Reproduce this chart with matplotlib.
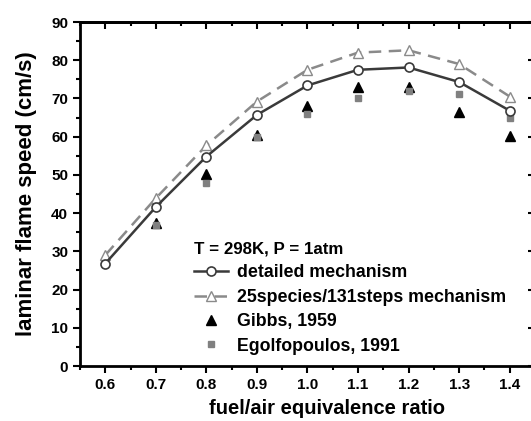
import numpy as np
import matplotlib.pyplot as plt
from matplotlib.ticker import MultipleLocator

plt.rcParams['font.family'] = ['Liberation Sans', 'DejaVu Sans']
plt.rcParams['font.weight'] = 'bold'

phi = [0.6, 0.7, 0.8, 0.9, 1.0, 1.1, 1.2, 1.3, 1.4]
detailed = [26.8, 41.6, 54.8, 65.7, 73.4, 77.5, 78.1, 74.3, 66.8]
reduced = [29.0, 43.9, 57.7, 69.2, 77.5, 82.0, 82.6, 79.0, 70.5]

phi_exp = [0.7, 0.8, 0.9, 1.0, 1.1, 1.2, 1.3, 1.4]
gibbs = [37.5, 50.3, 60.5, 68.1, 73.1, 73.0, 66.4, 60.3]
egolf = [37.0, 48.0, 60.0, 66.0, 70.0, 72.0, 71.2, 64.8]

fig = plt.figure(figsize=(5.31, 4.21), dpi=100)
ax = fig.add_axes([80/531, 1 - 366/421, 455/531, 344/421])

ax.plot(phi, detailed, '-o', color='#3a3a3a', lw=1.8, ms=6.5,
        mfc='white', mec='#3a3a3a', mew=1.2, label='detailed mechanism', zorder=4)
ax.plot(phi, reduced, '--^', color='#8a8a8a', lw=1.8, ms=7.5, dashes=(5, 3),
        mfc='white', mec='#8a8a8a', mew=1.0, label='25species/131steps mechanism', zorder=3)
ax.plot(phi_exp, gibbs, '^', color='black', ms=6.5, ls='none', label='Gibbs, 1959', zorder=2)
ax.plot(phi_exp, egolf, 's', color='#808080', ms=4.8, ls='none', label='Egolfopoulos, 1991', zorder=2.5)

ax.set_xlim(0.55, 1.45)
ax.set_ylim(0, 90)
ax.xaxis.set_minor_locator(MultipleLocator(0.05))
ax.yaxis.set_major_locator(MultipleLocator(10))
ax.yaxis.set_minor_locator(MultipleLocator(5))
ax.set_xticks(phi)
ax.set_xticklabels(['%.1f' % p for p in phi])

for s in ax.spines.values():
    s.set_linewidth(2)
ax.tick_params(which='both', direction='out', width=1.5, labelsize=11,
               top=False, right=False)
ax.tick_params(which='major', length=5)
ax.tick_params(which='minor', length=3)

# mirrored ticks on top/right, pointing inward
sec = ax.secondary_xaxis('top')
sec.set_xticks(phi)
sec.xaxis.set_minor_locator(MultipleLocator(0.05))
sec.tick_params(which='both', direction='in', width=1.5, labeltop=False)
sec.tick_params(which='major', length=5)
sec.tick_params(which='minor', length=3)
sec.spines['top'].set_linewidth(2)
sec2 = ax.secondary_yaxis('right')
sec2.yaxis.set_major_locator(MultipleLocator(10))
sec2.yaxis.set_minor_locator(MultipleLocator(5))
sec2.tick_params(which='both', direction='in', width=1.5, labelright=False)
sec2.tick_params(which='major', length=5)
sec2.tick_params(which='minor', length=3)
sec2.spines['right'].set_linewidth(2)

ax.set_xlabel('fuel/air equivalence ratio', fontsize=14.5, fontweight='bold')
ax.xaxis.set_label_coords((327.5 - 80) / 455, -0.095)
ax.set_ylabel('laminar flame speed (cm/s)', fontsize=16, fontweight='bold', labelpad=10)

leg = ax.legend(loc='upper left', bbox_to_anchor=(0.25, 0.361), frameon=False,
                title='T = 298K, P = 1atm',
                prop={'weight': 'bold', 'size': 12.8},
                handlelength=1.9, handletextpad=0.55, labelspacing=0.42,
                alignment='left', borderaxespad=0, borderpad=0)
leg.get_title().set_fontweight('bold')
leg.get_title().set_fontsize(12.2)

fig.savefig('out.png', dpi=100)
